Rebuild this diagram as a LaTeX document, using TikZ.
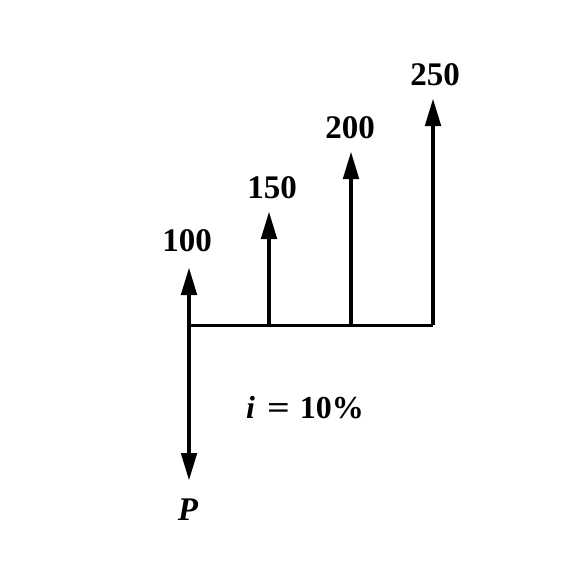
\documentclass[tikz,border=0pt]{standalone}
\usepackage{fontspec}
\usepackage{graphicx}
\setmainfont{Liberation Serif}
\usetikzlibrary{arrows.meta}
\begin{document}
\begin{tikzpicture}[x=1pt,y=-1pt,
  flow/.style={line width=4.8pt,-{Triangle[length=28pt,width=15pt]}},
  axis/.style={line width=3pt},
  amt/.style={font=\fontsize{33}{33}\selectfont\bfseries,inner sep=0pt}]
\useasboundingbox (0,0) rectangle (588,576);
% time line points
\coordinate (o) at (189,325);
\coordinate (b1) at (269,325);
\coordinate (b2) at (351,325);
\coordinate (b3) at (433,325);
\coordinate (t0) at (189,267);
\coordinate (t1) at (269,211);
\coordinate (t2) at (351,151);
\coordinate (t3) at (433,98);
\coordinate (d0) at (189,481);
\draw[axis] (o) -- (b3);
\draw[flow] (o) -- (t0);
\draw[flow] (b1) -- (t1);
\draw[flow] (b2) -- (t2);
\draw[flow] (b3) -- (t3);
\draw[flow] (o) -- (d0);
\node[amt] (l0) at (187,241) {100};
\node[amt] (l1) at (272,188) {150};
\node[amt] (l2) at (350,128) {200};
\node[amt] (l3) at (435,75) {250};
\node[amt,font=\fontsize{33}{33}\selectfont\bfseries\itshape] (lp) at (188,510) {P};
\node[inner sep=0pt,font=\fontsize{32}{32}\selectfont\bfseries] (rate) at (305,408) {\textit{i}\hspace{12pt}\scalebox{1.25}[1]{=}\hspace{10pt}10\%};
\end{tikzpicture}
\end{document}
